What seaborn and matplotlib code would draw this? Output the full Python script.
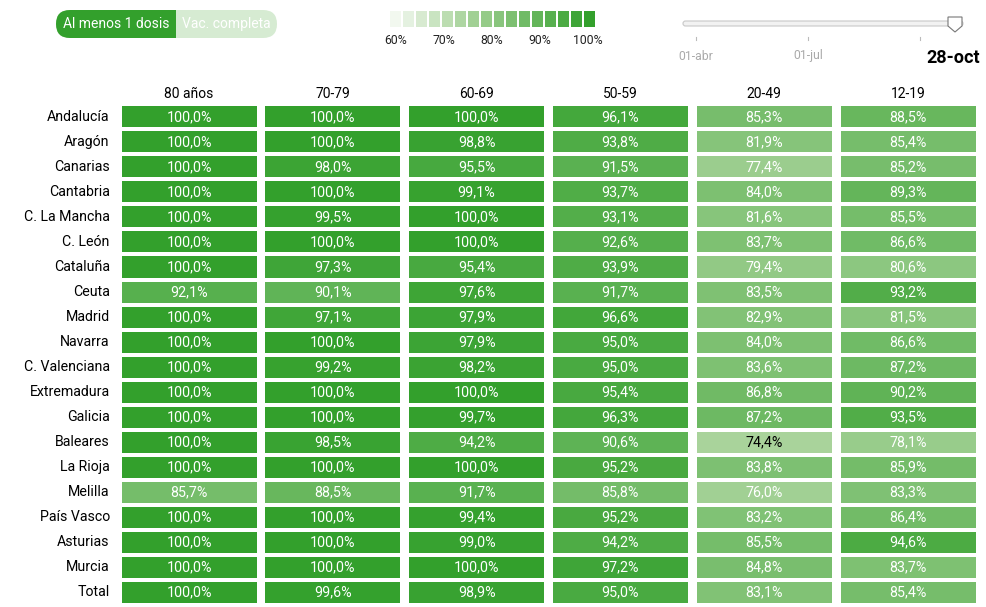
import numpy as np
import pandas as pd
import matplotlib.pyplot as plt
import seaborn as sns
from matplotlib.colors import LinearSegmentedColormap
from matplotlib.patches import FancyBboxPatch, Rectangle, Polygon

regions = ["Andalucía", "Aragón", "Canarias", "Cantabria", "C. La Mancha", "C. León",
           "Cataluña", "Ceuta", "Madrid", "Navarra", "C. Valenciana", "Extremadura",
           "Galicia", "Baleares", "La Rioja", "Melilla", "País Vasco", "Asturias",
           "Murcia", "Total"]
age_groups = ["80 años", "70-79", "60-69", "50-59", "20-49", "12-19"]

v80 = [100, 100, 100, 100, 100, 100, 100, 92.1, 100, 100, 100, 100, 100, 100, 100, 85.7, 100, 100, 100, 100]
v70 = [100, 100, 98.0, 100, 99.5, 100, 97.3, 90.1, 97.1, 100, 99.2, 100, 100, 98.5, 100, 88.5, 100, 100, 100, 99.6]
v60 = [100, 98.8, 95.5, 99.1, 100, 100, 95.4, 97.6, 97.9, 97.9, 98.2, 100, 99.7, 94.2, 100, 91.7, 99.4, 99.0, 100, 98.9]
v50 = [96.1, 93.8, 91.5, 93.7, 93.1, 92.6, 93.9, 91.7, 96.6, 95.0, 95.0, 95.4, 96.3, 90.6, 95.2, 85.8, 95.2, 94.2, 97.2, 95.0]
v20 = [85.3, 81.9, 77.4, 84.0, 81.6, 83.7, 79.4, 83.5, 82.9, 84.0, 83.6, 86.8, 87.2, 74.4, 83.8, 76.0, 83.2, 85.5, 84.8, 83.1]
v12 = [88.5, 85.4, 85.2, 89.3, 85.5, 86.6, 80.6, 93.2, 81.5, 86.6, 87.2, 90.2, 93.5, 78.1, 85.9, 83.3, 86.4, 94.6, 83.7, 85.4]

legend_ticks = ["60%", "70%", "80%", "90%", "100%"]
slider_labels = ["01-abr", "01-jul"]
current_date = "28-oct"

df = pd.DataFrame(dict(zip(age_groups, [v80, v70, v60, v50, v20, v12])), index=regions)

plt.rcParams['font.family'] = ['Roboto', 'DejaVu Sans']
cmap = LinearSegmentedColormap.from_list(
    "greens", [(0, "#f2f8ef"), (0.375, "#a6d298"), (1, "#33a02c")])

W, H = 986, 607
fig = plt.figure(figsize=(W / 100, H / 100), dpi=100)


def px_axes(x0, y0, x1, y1):
    return fig.add_axes([x0 / W, 1 - y1 / H, (x1 - x0) / W, (y1 - y0) / H])


def fmt(v):
    return f"{v:.1f}".replace(".", ",") + "%"


top, bottom = 104.5, 604.5
for i, col in enumerate(age_groups):
    x0 = 119.5 + 143.8 * i
    ax = px_axes(x0, top, x0 + 139, bottom)
    data = df[[col]]
    annot = data.map(fmt).values
    sns.heatmap(data, ax=ax, cmap=cmap, vmin=60, vmax=100, cbar=False,
                annot=annot, fmt="", linewidths=1.5, linecolor="white",
                annot_kws={"fontsize": 10.3})
    for t, v in zip(ax.texts, data[col].values):
        t.set_color("black" if v < 75 else "white")
    ax.set_xticks([])
    ax.set_xlabel("")
    ax.set_title(col, fontsize=10, pad=5)
    ax.tick_params(length=0, pad=7)
    if i == 0:
        ax.set_yticklabels(regions, rotation=0, fontsize=10.2, ha="right")
    else:
        ax.set_yticks([])

# legend swatches
lax = px_axes(389, 10, 596, 28)
sw = np.linspace(60, 100, 16).reshape(1, -1)
sns.heatmap(sw, ax=lax, cmap=cmap, vmin=60, vmax=100, cbar=False,
            linewidths=1.2, linecolor="white", xticklabels=False, yticklabels=False)

# overlay for controls, pixel coordinates
ov = fig.add_axes([0, 0, 1, 1], zorder=-1)
ov.set_xlim(0, W)
ov.set_ylim(H, 0)
ov.axis("off")

for x, lab in zip([396, 444, 492, 540, 588], legend_ticks):
    ov.text(x, 40, lab, ha="center", va="center", fontsize=8.8, color="#222222")

# toggle button
light = FancyBboxPatch((56, 10), 221, 28, boxstyle="round,pad=0,rounding_size=14",
                       fc="#d6ebd2", ec="none")
ov.add_patch(light)
dark = FancyBboxPatch((56, 10), 221, 28, boxstyle="round,pad=0,rounding_size=14",
                      fc="#33a02c", ec="none")
ov.add_patch(dark)
clip = Rectangle((56, 10), 120, 28, transform=ov.transData)
dark.set_clip_path(clip)
ov.text(116, 24, "Al menos 1 dosis", ha="center", va="center", fontsize=10, color="white")
ov.text(226, 24, "Vac. completa", ha="center", va="center", fontsize=10, color="white")

# slider
track = FancyBboxPatch((683, 21), 280, 5, boxstyle="round,pad=0,rounding_size=2.5",
                       fc="#f2f2f2", ec="#c8c8c8", lw=0.8)
ov.add_patch(track)
for x in [696, 808, 920]:
    ov.plot([x, x], [37, 40], color="#bbbbbb", lw=0.8)
for x, lab in zip([696, 808], slider_labels):
    ov.text(x, 56, lab, ha="center", va="center", fontsize=8.8, color="#aaaaaa")
ov.text(953, 58, current_date, ha="center", va="center", fontsize=13,
        fontweight="bold", color="black")
handle = Polygon([(948, 17), (962, 17), (962, 26), (955, 32), (948, 26)],
                 closed=True, fc="white", ec="#777777", lw=0.8, zorder=5)
ov.add_patch(handle)

fig.savefig("out.png", dpi=100)
